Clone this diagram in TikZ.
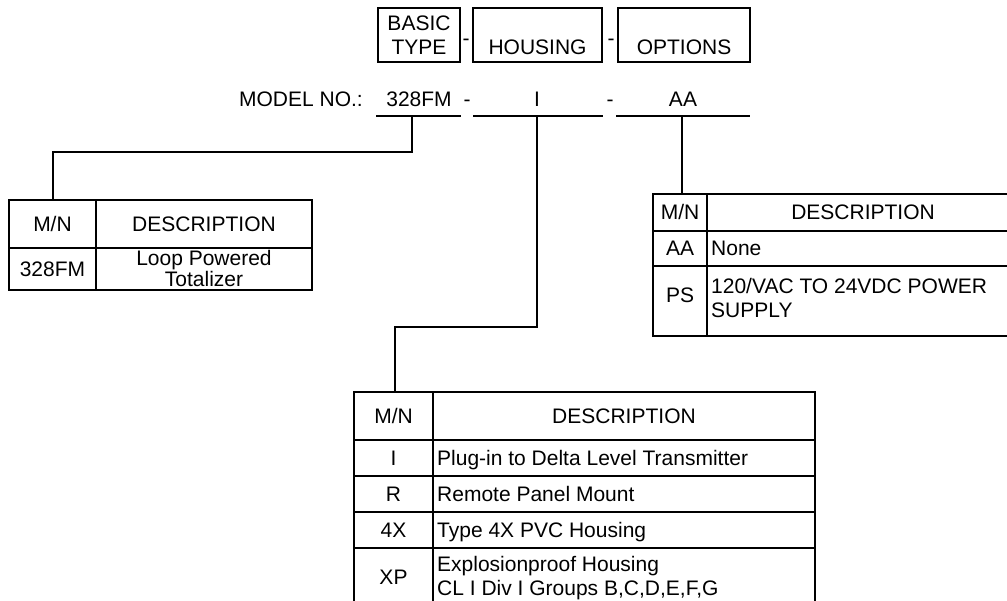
\documentclass[tikz,border=0pt]{standalone}
\usepackage{fontspec}
\setmainfont{Liberation Sans}
\begin{document}
\begin{tikzpicture}[x=1pt,y=-1pt,
  ln/.style={line width=1.6pt},
  txt/.style={inner sep=0pt,font=\fontsize{21}{23.5}\selectfont},
  btxt/.style={txt,anchor=base},
  lbtxt/.style={txt,anchor=base west},
  ltxt/.style={txt,anchor=west,align=left},
  ctxt/.style={txt,align=center}]
\useasboundingbox (0,0) rectangle (1007,601);
\begin{scope}
\clip (0,0) rectangle (1007,601);
% header boxes
\draw[ln] (378,8) rectangle (460,62);
\node[ctxt,font=\fontsize{21}{24}\selectfont] (basic) at (419,35) {BASIC\\TYPE};
\draw[ln] (473,8) rectangle (602,62);
\node[btxt] (housing) at (537.5,55) {HOUSING};
\draw[ln] (618,8) rectangle (750,62);
\node[btxt] (options) at (684,55) {OPTIONS};
\node[btxt] (d1) at (466,46) {-};
\node[btxt] (d2) at (611,46) {-};
% model row
\node[txt,anchor=base east] (model) at (363,106.5) {MODEL NO.:};
\node[btxt] (m1) at (419,106.5) {328FM};
\node[btxt] (d3) at (467,106.5) {-};
\node[btxt] (m2) at (537,106.5) {I};
\node[btxt] (d4) at (610,106.5) {-};
\node[btxt] (m3) at (683,106.5) {AA};
\coordinate (u1a) at (376,116); \coordinate (u1b) at (461,116);
\coordinate (u2a) at (473,116); \coordinate (u2b) at (603,116);
\coordinate (u3a) at (616,116); \coordinate (u3b) at (750,116);
\draw[ln] (u1a) -- (u1b);
\draw[ln] (u2a) -- (u2b);
\draw[ln] (u3a) -- (u3b);
% connectors
\coordinate (c1) at (412,116);
\coordinate (t1) at (53,200);
\draw[ln] (c1) |- (53,152) -- (t1);
\coordinate (c2) at (537,116);
\coordinate (t2) at (395,392);
\draw[ln] (c2) |- (395,327) -- (t2);
\coordinate (c3) at (682,116);
\coordinate (t3) at (682,194);
\draw[ln] (c3) -- (t3);
% left table
\draw[ln] (9,200) rectangle (312,290);
\draw[ln] (96,200) -- (96,290);
\draw[ln] (9,248) -- (312,248);
\node[btxt] (lh1) at (52.5,231.5) {M/N};
\node[btxt] (lh2) at (204,231.5) {DESCRIPTION};
\node[btxt] (lr1) at (52.5,277) {328FM};
\node[ctxt,font=\fontsize{21}{21.5}\selectfont] (lr2) at (204,268.5) {Loop Powered\\Totalizer};
% right table
\draw[ln] (1030,194) -- (653,194) -- (653,336) -- (1030,336);
\draw[ln] (707,194) -- (707,336);
\draw[ln] (653,231) -- (1030,231);
\draw[ln] (653,266) -- (1030,266);
\node[btxt] (rh1) at (680,220) {M/N};
\node[btxt] (rh2) at (863,220) {DESCRIPTION};
\node[btxt] (rr1) at (680,256) {AA};
\node[lbtxt] (rr2) at (711,256) {None};
\node[btxt] (rr3) at (680,302.5) {PS};
\node[ltxt,font=\fontsize{21}{24}\selectfont] (rr4) at (711,298) {120/VAC TO 24VDC POWER\\SUPPLY};
% bottom table
\draw[ln] (354,620) -- (354,392) -- (815,392) -- (815,620);
\draw[ln] (433,392) -- (433,620);
\draw[ln] (354,440) -- (815,440);
\draw[ln] (354,476) -- (815,476);
\draw[ln] (354,512) -- (815,512);
\draw[ln] (354,548) -- (815,548);
\node[btxt] (bh1) at (393.5,423.5) {M/N};
\node[btxt] (bh2) at (624,423.5) {DESCRIPTION};
\node[btxt] (b1) at (393.5,465.5) {I};
\node[lbtxt] (b1d) at (437,465.5) {Plug-in to Delta Level Transmitter};
\node[btxt] (b2) at (393.5,501.5) {R};
\node[lbtxt] (b2d) at (437,501.5) {Remote Panel Mount};
\node[btxt] (b3) at (393.5,537.5) {4X};
\node[lbtxt] (b3d) at (437,537.5) {Type 4X PVC Housing};
\node[btxt] (b4) at (393.5,584.5) {XP};
\node[ltxt] (b4d) at (437,578) {Explosionproof Housing\\CL I Div I Groups B,C,D,E,F,G};
\end{scope}
\end{tikzpicture}
\end{document}
